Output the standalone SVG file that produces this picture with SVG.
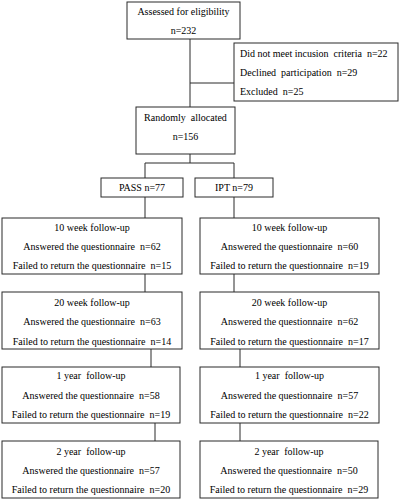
<svg xmlns="http://www.w3.org/2000/svg" width="400" height="500" viewBox="0 0 400 500">
<style>
rect{fill:#fff;stroke:#2a2a2a;stroke-width:1}
.c line{stroke:#2a2a2a;stroke-width:1}
text{font-family:"Liberation Serif","Times New Roman","DejaVu Serif",serif;font-size:10px;fill:#000;text-anchor:middle;white-space:pre}
.l{text-anchor:start}
</style>
<rect x="0" y="0" width="400" height="500" style="stroke:none"/>
<g class="c" id="connectors">
<line x1="190" y1="39" x2="190" y2="107"/>
<line x1="190" y1="83" x2="234" y2="83"/>
<line x1="190" y1="154" x2="190" y2="163"/>
<line x1="145" y1="163" x2="234" y2="163"/>
<line x1="145" y1="163" x2="145" y2="178"/>
<line x1="234" y1="163" x2="234" y2="178"/>
<line x1="145" y1="197" x2="145" y2="218"/>
<line x1="234" y1="197" x2="234" y2="218"/>
<line x1="145" y1="274" x2="145" y2="292"/>
<line x1="234" y1="274" x2="234" y2="292"/>
<line x1="151" y1="349" x2="151" y2="367"/>
<line x1="240" y1="349" x2="240" y2="367"/>
<line x1="155" y1="423" x2="155" y2="441"/>
<line x1="240" y1="423" x2="240" y2="441"/>
</g>
<g id="assessed">
<rect x="127" y="2" width="113" height="37"/>
<text x="183.5" y="15">Assessed for eligibility</text>
<text x="183.5" y="34">n=232</text>
</g>
<g id="excluded">
<rect x="234" y="43" width="164" height="58"/>
<text class="l" x="240" y="57" xml:space="preserve">Did not meet incusion  criteria  n=22</text>
<text class="l" x="240" y="76" xml:space="preserve">Declined  participation  n=29</text>
<text class="l" x="240" y="95" xml:space="preserve">Excluded  n=25</text>
</g>
<g id="randomly">
<rect x="136" y="107" width="99" height="47"/>
<text x="185.5" y="121" xml:space="preserve">Randomly  allocated</text>
<text x="185.5" y="140">n=156</text>
</g>
<g id="pass">
<rect x="101" y="178" width="82" height="19"/>
<text x="142" y="191">PASS n=77</text>
</g>
<g id="ipt">
<rect x="195" y="178" width="78" height="19"/>
<text x="234" y="191">IPT n=79</text>
</g>
<g id="pass-10w">
<rect x="2" y="218" width="180" height="56"/>
<text x="92" y="230.5">10 week follow-up</text>
<text x="92" y="249.5" xml:space="preserve">Answered the questionnaire  n=62</text>
<text x="92" y="268.5" xml:space="preserve">Failed to return the questionnaire  n=15</text>
</g>
<g id="ipt-10w">
<rect x="200" y="218" width="179" height="56"/>
<text x="289.5" y="230.5">10 week follow-up</text>
<text x="289.5" y="249.5" xml:space="preserve">Answered the questionnaire  n=60</text>
<text x="289.5" y="268.5" xml:space="preserve">Failed to return the questionnaire  n=19</text>
</g>
<g id="pass-20w">
<rect x="2" y="292" width="180" height="57"/>
<text x="92" y="305.5">20 week follow-up</text>
<text x="92" y="325" xml:space="preserve">Answered the questionnaire  n=63</text>
<text x="92" y="344.5" xml:space="preserve">Failed to return the questionnaire  n=14</text>
</g>
<g id="ipt-20w">
<rect x="200" y="292" width="179" height="57"/>
<text x="289.5" y="305.5">20 week follow-up</text>
<text x="289.5" y="325" xml:space="preserve">Answered the questionnaire  n=62</text>
<text x="289.5" y="344.5" xml:space="preserve">Failed to return the questionnaire  n=17</text>
</g>
<g id="pass-1y">
<rect x="2" y="367" width="178" height="56"/>
<text x="91" y="379" xml:space="preserve">1 year  follow-up</text>
<text x="91" y="398.5" xml:space="preserve">Answered the questionnaire  n=58</text>
<text x="91" y="417.5" xml:space="preserve">Failed to return the questionnaire  n=19</text>
</g>
<g id="ipt-1y">
<rect x="200" y="367" width="179" height="56"/>
<text x="289.5" y="379" xml:space="preserve">1 year  follow-up</text>
<text x="289.5" y="398.5" xml:space="preserve">Answered the questionnaire  n=57</text>
<text x="289.5" y="417.5" xml:space="preserve">Failed to return the questionnaire  n=22</text>
</g>
<g id="pass-2y">
<rect x="2" y="441" width="178" height="57"/>
<text x="91" y="455" xml:space="preserve">2 year  follow-up</text>
<text x="91" y="473.5" xml:space="preserve">Answered the questionnaire  n=57</text>
<text x="91" y="492.5" xml:space="preserve">Failed to return the questionnaire  n=20</text>
</g>
<g id="ipt-2y">
<rect x="200" y="441" width="178" height="57"/>
<text x="289" y="455" xml:space="preserve">2 year  follow-up</text>
<text x="289" y="473.5" xml:space="preserve">Answered the questionnaire  n=50</text>
<text x="289" y="492.5" xml:space="preserve">Failed to return the questionnaire  n=29</text>
</g>
</svg>
